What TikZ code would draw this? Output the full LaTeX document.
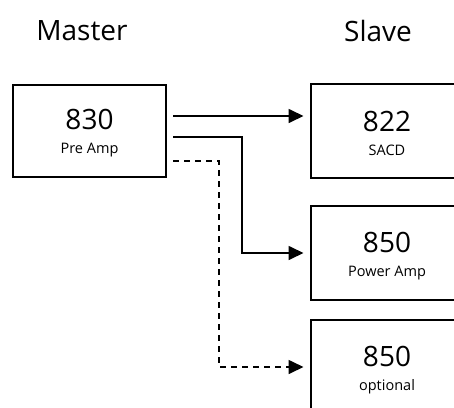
\documentclass[tikz,border=0pt]{standalone}
\usepackage{fontspec}
\setmainfont{Open Sans}
\usepackage{tikz}
\usetikzlibrary{arrows.meta}
\usetikzlibrary{calc}

\newcommand{\bignum}{\fontsize{28}{30}\selectfont}
\newcommand{\smalllbl}{\fontsize{14.5}{16}\selectfont}
\newcommand{\unittext}[2]{\rule{0pt}{26pt}#1\\[-6pt]\smalllbl #2}

\tikzset{
    unitbox/.style={draw, line width=2pt, minimum width=153pt, minimum height=92pt, inner sep=0pt, align=center, font=\bignum},
    wire/.style={line width=1.7pt, -{Triangle[length=15pt,width=14pt]}},
}

\begin{document}
\begin{tikzpicture}[x=1pt, y=-1pt]
    \useasboundingbox (0,0) rectangle (454,407);
    \clip (0,0) rectangle (454,407);
    % - Column titles
    \node[font=\bignum] (mtitle) at (82,31){Master};
    \node[font=\bignum] (stitle) at (378,31){Slave};
    % - Boxes
    \node[unitbox] (pre) at (89.5,130.5){\unittext{830}{Pre Amp}};
    \node[unitbox, minimum height=94pt] (sacd) at (387,131){\unittext{822}{SACD}};
    \node[unitbox, minimum height=94pt] (power) at (387,253){\unittext{850}{Power Amp}};
    \node[unitbox, minimum height=94pt] (opt) at (387,367){\unittext{850}{optional}};
    % - Connectors
    \coordinate (outA) at ($(pre.east)+(6,-14.5)$);%top output
    \coordinate (outB) at ($(pre.east)+(6,6.5)$);
    \coordinate (outC) at ($(pre.east)+(6,30.5)$);%dashed
    \draw[wire] (outA) -- ($(outA -| sacd.west)+(-6,0)$);
    \draw[wire] (outB) -| (242,253) -- ($(power.west)+(-6,0)$);
    \draw[wire, dash pattern=on 6pt off 5pt] (outC) -| (219,367) -- ($(opt.west)+(-6,0)$);
\end{tikzpicture}
\end{document}
